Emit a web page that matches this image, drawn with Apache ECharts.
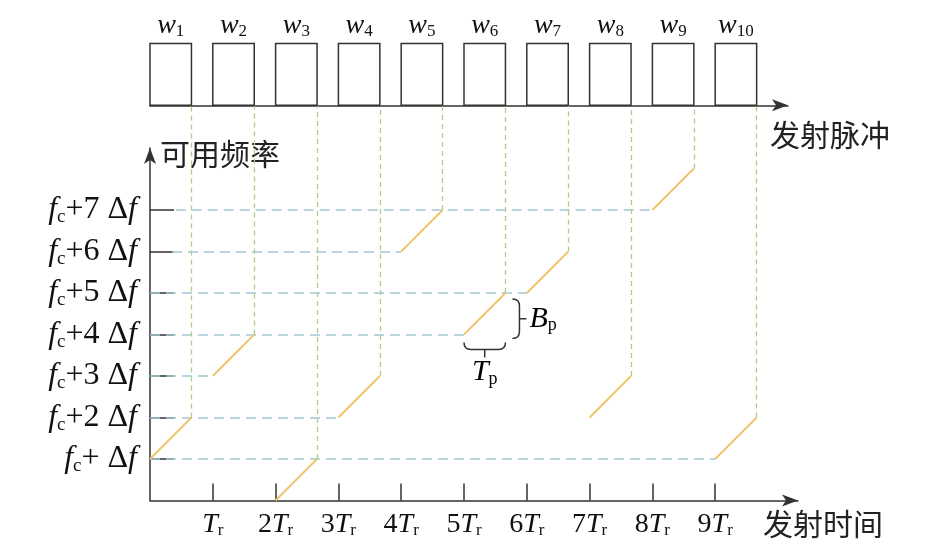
<!DOCTYPE html>
<html>
<head>
<meta charset="utf-8">
<script src="https://cdn.jsdelivr.net/npm/echarts@6/dist/echarts.min.js"></script>
<style>
html, body { margin: 0; padding: 0; background: #fff; }
#main { width: 929px; height: 554px; }
</style>
</head>
<body>
<div id="main"></div>
<script>
// 脉冲编号 w1..w10
var pulseNames = ['1', '2', '3', '4', '5', '6', '7', '8', '9', '10'];
// 发射时刻 (单位 Tr)
var pulseStart = [0, 1, 2, 3, 4, 5, 6, 7, 8, 9];
// 起始频点 (单位 Δf, 相对 fc)
var pulseLevel = [1, 3, 0, 2, 6, 4, 5, 2, 7, 1];
// 脉宽 Tp (单位 Tr), 带宽 Bp (单位 Δf)
var pulseWidth = 0.66;
var pulseBand = 1;
// 频率刻度
var freqTicks = [1, 2, 3, 4, 5, 6, 7];
// 时间刻度
var timeTicks = [1, 2, 3, 4, 5, 6, 7, 8, 9];
// 蓝色虚线起点/终点 (单位 Tr)，依次对应 fc+Δf .. fc+7Δf
var guideStart = [0, 0, 0, 0, 0, 0.35, 0.41];
var guideEnd = [9, 3, 1, 5, 6, 4, 8];
// 标注 Tp / Bp 的脉冲序号
var markPulse = [5];

// 版面 (像素)
var X0 = 150, TR = 62.8;
var AXIS_Y = 500.5, LV = 41.5;
var PULSE_Y = 105.3, PULSE_TOP = 43.5;
var Y_TOP = 148;
var pulseAxisLevel = (AXIS_Y - PULSE_Y) / LV;

var serif = 'Liberation Serif';
var cjk = 'Noto Sans CJK SC';
var ink = '#333';

var freqRich = {
	i: { fontFamily: serif, fontStyle: 'italic', fontSize: 32, lineHeight: 34, color: '#111' },
	n: { fontFamily: serif, fontSize: 32, lineHeight: 34, color: '#111' },
	s: { fontFamily: serif, fontSize: 19, verticalAlign: 'bottom', color: '#111' }
};
var timeRich = {
	i: { fontFamily: serif, fontStyle: 'italic', fontSize: 28, lineHeight: 30, color: '#111' },
	n: { fontFamily: serif, fontSize: 28, lineHeight: 30, color: '#111' },
	s: { fontFamily: serif, fontSize: 17, verticalAlign: 'bottom', color: '#111' }
};
var markRich = {
	i: { fontFamily: serif, fontStyle: 'italic', fontSize: 30, lineHeight: 32, color: '#111' },
	s: { fontFamily: serif, fontSize: 18, verticalAlign: 'bottom', color: '#111' }
};

// 调频段与绿色引线
var chirps = [];
var greens = [];
for (var i = 0; i < pulseStart.length; i++) {
	var t0 = pulseStart[i], l0 = pulseLevel[i];
	chirps.push({ coords: [[t0, l0], [t0 + pulseWidth, l0 + pulseBand]] });
	greens.push({ coords: [[t0 + pulseWidth, l0 + pulseBand], [t0 + pulseWidth, pulseAxisLevel]] });
}
// 蓝色频点虚线
var blues = [];
for (var k = 0; k < freqTicks.length; k++) {
	blues.push({ coords: [[guideStart[k], freqTicks[k]], [guideEnd[k], freqTicks[k]]] });
}
var pulses = [];
for (var j = 0; j < pulseStart.length; j++) {
	pulses.push([pulseStart[j], pulseWidth]);
}

var bottomW = 648, topW = 638;
var axisLineStyle = { color: ink, width: 1.5 };

var myChart = echarts.init(document.getElementById('main'));
var option = {
	animation: false,
	grid: [{
		left: X0, top: PULSE_TOP, width: topW, height: PULSE_Y - PULSE_TOP
	}, {
		left: X0, top: Y_TOP, width: bottomW, height: AXIS_Y - Y_TOP
	}],
	xAxis: [{
		gridIndex: 0, type: 'value', min: 0, max: topW / TR,
		axisLine: { show: true, symbol: ['none', 'arrow'], symbolSize: [9, 16], lineStyle: axisLineStyle },
		axisTick: { show: false }, axisLabel: { show: false }, splitLine: { show: false },
		name: '发射脉冲', nameLocation: 'end', nameGap: 102,
		nameTextStyle: { fontFamily: cjk, fontSize: 30, color: '#222', align: 'right', verticalAlign: 'top', padding: [14, 0, 0, 0] }
	}, {
		gridIndex: 1, type: 'value', min: 0, max: bottomW / TR,
		axisLine: { show: true, symbol: ['none', 'arrow'], symbolSize: [9, 16], lineStyle: axisLineStyle },
		axisTick: { show: true, inside: true, length: 17, customValues: timeTicks, lineStyle: axisLineStyle },
		axisLabel: {
			show: true, customValues: timeTicks, margin: 9,
			formatter: function(v) {
				return '{n|' + (v === 1 ? '' : v) + '}{i|T}{s|r}';
			},
			rich: timeRich
		},
		splitLine: { show: false },
		name: '发射时间', nameLocation: 'end', nameGap: 85,
		nameTextStyle: { fontFamily: cjk, fontSize: 30, color: '#222', align: 'right', verticalAlign: 'top', padding: [8, 0, 0, 0] }
	}],
	yAxis: [{
		gridIndex: 0, type: 'value', min: 0, max: 1, show: false
	}, {
		gridIndex: 1, type: 'value', min: 0, max: (AXIS_Y - Y_TOP) / LV,
		axisLine: { show: true, symbol: ['none', 'arrow'], symbolSize: [9, 16], lineStyle: axisLineStyle },
		axisTick: { show: true, inside: true, length: 24, customValues: freqTicks, lineStyle: axisLineStyle },
		axisLabel: {
			show: true, customValues: freqTicks, margin: 13,
			formatter: function(v) {
				return '{i|f}{s|c}{n|+' + (v === 1 ? '' : v) + ' Δ}{i|f}';
			},
			rich: freqRich
		},
		splitLine: { show: false },
		name: '可用频率', nameLocation: 'end', nameGap: -6,
		nameTextStyle: { fontFamily: cjk, fontSize: 30, color: '#222', align: 'left', verticalAlign: 'middle', padding: [0, 0, 0, 10] }
	}],
	series: [{
		// 蓝色虚线
		type: 'lines', coordinateSystem: 'cartesian2d', xAxisIndex: 1, yAxisIndex: 1,
		polyline: false, clip: false, silent: true,
		lineStyle: { color: '#a3c9d3', width: 1.6, type: [10, 6], opacity: 1, curveness: 0 },
		data: blues
	}, {
		// 绿色虚线
		type: 'lines', coordinateSystem: 'cartesian2d', xAxisIndex: 1, yAxisIndex: 1,
		polyline: false, clip: false, silent: true,
		lineStyle: { color: '#a8d08c', width: 1.3, type: [5, 4], opacity: 1, curveness: 0 },
		data: greens
	}, {
		// 调频段
		type: 'lines', coordinateSystem: 'cartesian2d', xAxisIndex: 1, yAxisIndex: 1,
		polyline: false, clip: false, silent: true,
		lineStyle: { color: '#f0c46c', width: 2, opacity: 1, curveness: 0 },
		data: chirps
	}, {
		// 发射脉冲
		type: 'custom', coordinateSystem: 'cartesian2d', xAxisIndex: 0, yAxisIndex: 0,
		clip: false, silent: true,
		renderItem: function(params, api) {
			var p0 = api.coord([api.value(0), 0]);
			var p1 = api.coord([api.value(0) + api.value(1), 1]);
			var name = pulseNames[params.dataIndex];
			return {
				type: 'group',
				children: [{
					type: 'rect',
					shape: { x: p0[0], y: p1[1], width: p1[0] - p0[0], height: p0[1] - p1[1] },
					style: { fill: 'none', stroke: ink, lineWidth: 1.5 }
				}, {
					type: 'text',
					x: (p0[0] + p1[0]) / 2, y: p1[1] - 3,
					style: {
						text: '{i|w}{s|' + name + '}',
						align: 'center', verticalAlign: 'bottom',
						rich: {
							i: { fontFamily: serif, fontStyle: 'italic', fontSize: 28, lineHeight: 30, fill: '#111' },
							s: { fontFamily: serif, fontSize: 17, verticalAlign: 'bottom', fill: '#111' }
						}
					}
				}]
			};
		},
		data: pulses
	}, {
		// Tp / Bp 标注
		type: 'custom', coordinateSystem: 'cartesian2d', xAxisIndex: 1, yAxisIndex: 1,
		clip: false, silent: true,
		renderItem: function(params, api) {
			var n = api.value(0);
			var t0 = pulseStart[n], l0 = pulseLevel[n];
			var s = api.coord([t0, l0]);
			var e = api.coord([t0 + pulseWidth, l0 + pulseBand]);
			// Tp 括号
			var ya = s[1] + 8, yb = s[1] + 15, xm = (s[0] + e[0]) / 2;
			var tp = 'M' + s[0] + ',' + ya + ' Q' + s[0] + ',' + yb + ' ' + (s[0] + 7) + ',' + yb +
				' L' + (e[0] - 7) + ',' + yb + ' Q' + e[0] + ',' + yb + ' ' + e[0] + ',' + ya +
				' M' + xm + ',' + yb + ' L' + xm + ',' + (yb + 8);
			// Bp 括号
			var xa = e[0] + 7, xb = e[0] + 14, yt = e[1] + 6, ybt = s[1] + 4, ym = (yt + ybt) / 2;
			var bp = 'M' + xa + ',' + yt + ' Q' + xb + ',' + yt + ' ' + xb + ',' + (yt + 7) +
				' L' + xb + ',' + (ybt - 7) + ' Q' + xb + ',' + ybt + ' ' + xa + ',' + ybt +
				' M' + xb + ',' + ym + ' L' + (xb + 7) + ',' + ym;
			return {
				type: 'group',
				children: [{
					type: 'path', shape: { pathData: tp }, style: { fill: 'none', stroke: ink, lineWidth: 1.5 }
				}, {
					type: 'path', shape: { pathData: bp }, style: { fill: 'none', stroke: ink, lineWidth: 1.5 }
				}, {
					type: 'text', x: xm, y: yb + 7,
					style: { text: '{i|T}{s|p}', align: 'center', verticalAlign: 'top', rich: markRich }
				}, {
					type: 'text', x: xb + 10, y: ym,
					style: { text: '{i|B}{s|p}', align: 'left', verticalAlign: 'middle', rich: markRich }
				}]
			};
		},
		data: markPulse
	}]
};
myChart.setOption(option);
</script>
</body>
</html>
